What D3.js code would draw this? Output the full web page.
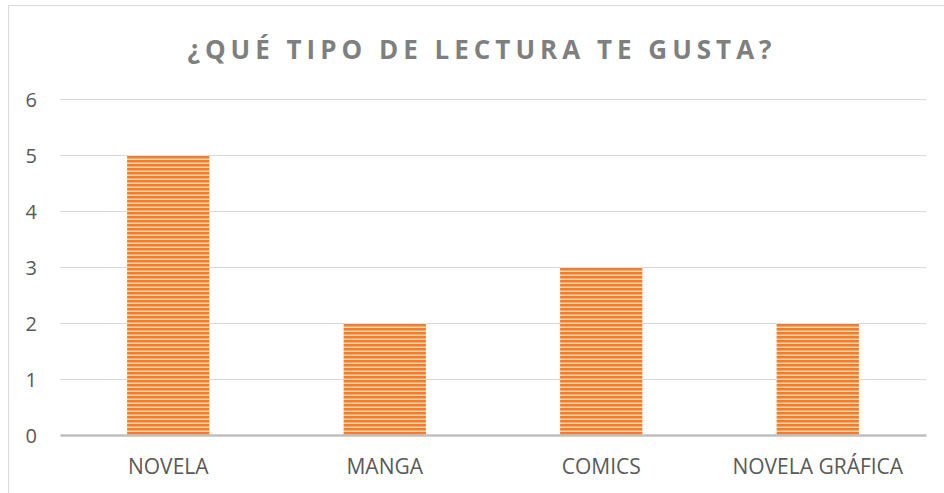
<!DOCTYPE html>
<html><head><meta charset="utf-8">
<script src="https://cdn.jsdelivr.net/npm/d3@7"></script>
<style>
body{margin:0;background:#fff;}
svg{display:block;}
</style></head>
<body>
<svg id="c" width="944" height="493"></svg>
<script>
const categories = ["NOVELA","MANGA","COMICS","NOVELA GRÁFICA"];
const values = [5,2,3,2];
const yTicks = [0,1,2,3,4,5,6];
const title = "¿QUÉ TIPO DE LECTURA TE GUSTA?";

const svg = d3.select("#c");
const W = 944, H = 493;
const m = {left:60, right:18, top:99, bottom:58};
const pw = W - m.left - m.right, ph = H - m.top - m.bottom;

svg.append("rect").attr("x",8.5).attr("y",5.5).attr("width",W+20).attr("height",H+20)
  .attr("fill","#fff").attr("stroke","#d9d9d9").attr("stroke-width",1);

const defs = svg.append("defs");
const pat = defs.append("pattern").attr("id","stripes").attr("patternUnits","userSpaceOnUse")
  .attr("width",8).attr("height",4);
pat.append("rect").attr("x",0).attr("y",0).attr("width",8).attr("height",4).attr("fill","#fbd9c2");
pat.append("rect").attr("x",0).attr("y",0).attr("width",8).attr("height",2).attr("fill","#ed7d31");
pat.append("rect").attr("x",0).attr("y",2).attr("width",8).attr("height",1).attr("fill","#f4a872");

const x = d3.scaleBand().domain(categories).range([m.left, m.left+pw]).paddingInner(0.62).paddingOuter(0.31);
const y = d3.scaleLinear().domain([0,6]).range([m.top+ph, m.top]);

const g = svg.append("g");
g.selectAll(".grid").data(yTicks.filter(d=>d>0)).join("line")
  .attr("x1",m.left).attr("x2",m.left+pw)
  .attr("y1",d=>Math.round(y(d))+0.5).attr("y2",d=>Math.round(y(d))+0.5)
  .attr("stroke","#d9d9d9").attr("stroke-width",1);

const yAxis = d3.axisLeft(y).tickValues(yTicks).tickSize(0).tickPadding(0).tickFormat(d3.format("d"));
const ya = svg.append("g").attr("transform",`translate(${m.left-23},0)`).call(yAxis);
ya.select(".domain").remove();
ya.selectAll("text").attr("font-family","'Open Sans', sans-serif").attr("font-size",20)
  .attr("fill","#595959").attr("text-anchor","end").attr("dy","0.36em");

g.selectAll(".bar").data(values).join("rect")
  .attr("x",(d,i)=>x(categories[i])).attr("width",x.bandwidth())
  .attr("y",d=>y(d)).attr("height",d=>y(0)-y(d))
  .attr("fill","url(#stripes)");

const xAxis = d3.axisBottom(x).tickSize(0).tickPadding(24);
const xa = svg.append("g").attr("transform",`translate(0,${y(0)})`).call(xAxis);
xa.select(".domain").attr("stroke","#bfbfbf").attr("stroke-width",2.5);
xa.selectAll("text").attr("font-family","'Open Sans', sans-serif").attr("font-size",21)
  .attr("fill","#595959");

svg.append("text").attr("x",482).attr("y",59).attr("text-anchor","middle")
  .attr("font-family","'Open Sans', sans-serif").attr("font-weight","bold").attr("font-size",26)
  .attr("letter-spacing","5px").attr("fill","#7f7f7f").text(title);
</script>
</body></html>
